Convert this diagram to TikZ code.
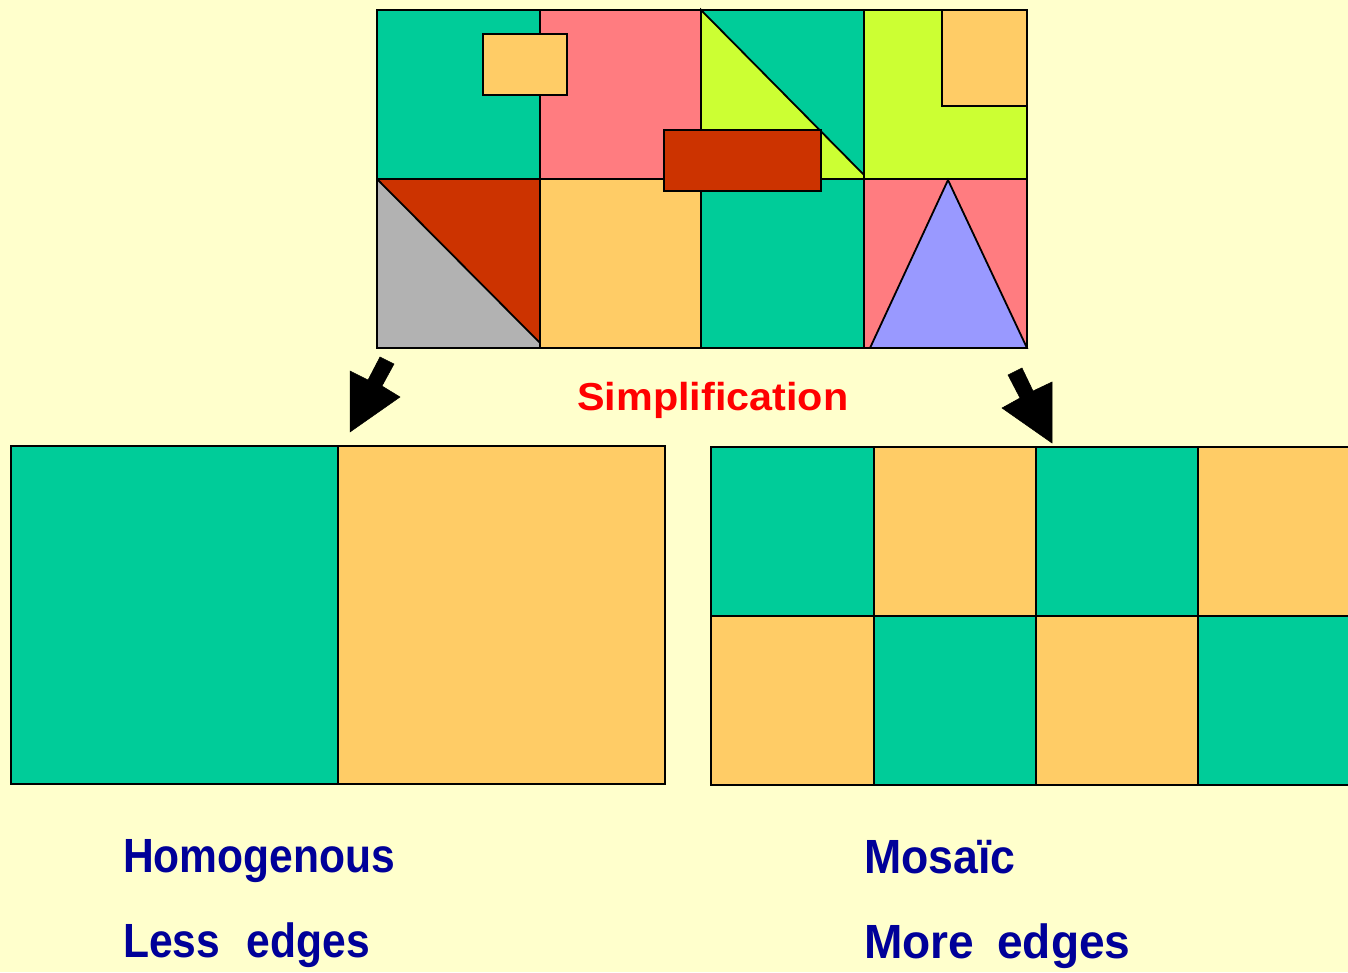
\documentclass[tikz,border=0pt]{standalone}
\usepackage{fontspec}
\setmainfont{Liberation Sans}
\definecolor{bgc}{HTML}{FFFFCC}
\definecolor{gr}{HTML}{00CC99}
\definecolor{pk}{HTML}{FF7C80}
\definecolor{og}{HTML}{FFCC66}
\definecolor{lm}{HTML}{CCFF33}
\definecolor{rd}{HTML}{CC3300}
\definecolor{gy}{HTML}{B2B2B2}
\definecolor{bl}{HTML}{9999FF}
\definecolor{txtblue}{HTML}{000099}
\begin{document}
\begin{tikzpicture}[x=1pt,y=-1pt,
  piece/.style={draw=black,line width=1.8pt,line join=miter},
  blockarrow/.style={fill=black,draw=black,line width=0.5pt},
  lbl/.style={anchor=base west,inner sep=0pt,text=txtblue,font=\fontsize{48}{50}\selectfont\bfseries}]
\useasboundingbox (0,0) rectangle (1348,972);
\fill[bgc] (0,0) rectangle (1348,972);
% ---------- top mosaic ----------
% top row
\filldraw[piece,fill=gr] (377,10) rectangle (540,179);
\filldraw[piece,fill=pk] (540,10) rectangle (701,179);
\filldraw[piece,fill=gr] (701,10) rectangle (864,179);
\filldraw[piece,fill=lm] (701,10) -- (701,179) -- (868,179) -- cycle;
\filldraw[piece,fill=lm] (864,10) rectangle (1027,179);
\filldraw[piece,fill=og] (942,10) rectangle (1027,106);
% bottom row
\filldraw[piece,fill=rd] (377,179) rectangle (540,348);
\filldraw[piece,fill=gy] (377,179) -- (545,348) -- (377,348) -- cycle;
\filldraw[piece,fill=og] (540,179) rectangle (701,348);
\filldraw[piece,fill=gr] (701,179) rectangle (864,348);
\filldraw[piece,fill=pk] (864,179) rectangle (1027,348);
\filldraw[piece,fill=bl] (948,180) -- (1027,348) -- (870,348) -- cycle;
% overlapping pieces
\filldraw[piece,fill=og] (483,34) rectangle (567,95);
\filldraw[piece,fill=rd] (664,130) rectangle (821,191);
% ---------- arrows ----------
\filldraw[blockarrow] (380,357) -- (394,364) -- (382,386) -- (400,397) -- (350,432) -- (350,371) -- (368,380) -- cycle;
\filldraw[blockarrow] (1008,375) -- (1022,368) -- (1033,391) -- (1052,382) -- (1052,443) -- (1002,408) -- (1020,398) -- cycle;
% ---------- label ----------
\node[anchor=base west,inner sep=0pt,text=red,font=\fontsize{39}{41}\selectfont\bfseries] (simp) at (577,410) {\scalebox{1.06}[1]{Simplification}};
% ---------- bottom left ----------
\filldraw[piece,fill=gr] (11,446) rectangle (338,784);
\filldraw[piece,fill=og] (338,446) rectangle (665,784);
% ---------- bottom right ----------
\begin{scope}
\clip (700,430) rectangle (1348,800);
\filldraw[piece,fill=gr] (711,447) rectangle (874,616);
\filldraw[piece,fill=og] (874,447) rectangle (1036,616);
\filldraw[piece,fill=gr] (1036,447) rectangle (1198,616);
\filldraw[piece,fill=og] (1198,447) rectangle (1362,616);
\filldraw[piece,fill=og] (711,616) rectangle (874,785);
\filldraw[piece,fill=gr] (874,616) rectangle (1036,785);
\filldraw[piece,fill=og] (1036,616) rectangle (1198,785);
\filldraw[piece,fill=gr] (1198,616) rectangle (1362,785);
\end{scope}
% ---------- captions ----------
\node[lbl] (homo) at (123,872) {\scalebox{0.887}[1]{Homogenous}};
\node[lbl] (less) at (123,957) {\scalebox{0.887}[1]{Less\hspace{30pt}edges}};
\node[lbl] (mosa) at (864,873) {\scalebox{0.93}[1]{Mosaïc}};
\node[lbl] (more) at (864,958) {\scalebox{0.96}[1]{More\hspace{24pt}edges}};
\end{tikzpicture}
\end{document}
